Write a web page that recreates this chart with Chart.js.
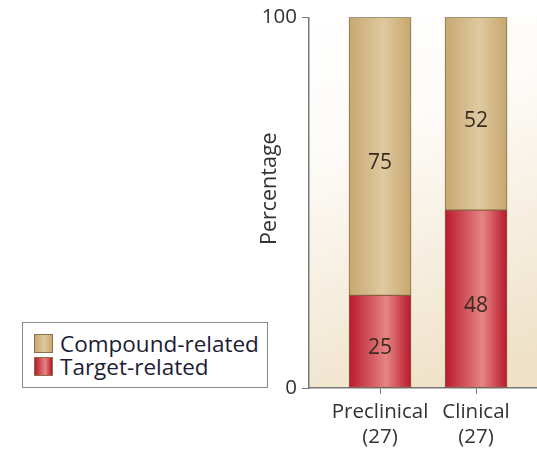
<!DOCTYPE html>
<html>
<head>
<meta charset="utf-8">
<script src="https://cdn.jsdelivr.net/npm/chart.js@4.4.0/dist/chart.umd.min.js"></script>
<style>
  body { margin: 0; background: #fff; }
  #wrap { position: relative; width: 537px; height: 449px; }
  #legend {
    position: absolute; left: 22px; top: 322px; width: 246px; height: 66px;
    border: 1px solid #8a8a8a; background: #fff;
    font-family: "Open Sans", sans-serif; font-size: 22.5px; color: #1c1c34;
    padding: 9px 0 0 11px; box-sizing: border-box;
  }
  #legend div { display: flex; align-items: center; height: 23px; white-space: nowrap; }
  #legend span.sw { width: 19px; height: 19px; margin-right: 7px; border: 1px solid #8b7048; box-sizing: border-box; }
</style>
</head>
<body>
<div id="wrap">
  <canvas id="myChart" width="537" height="449"></canvas>
  <div id="legend"></div>
</div>
<script>
// values
let categories = ["Preclinical", "Clinical"];
let counts = ["(27)", "(27)"];
let compoundRelated = [75, 52];
let targetRelated = [25, 48];
let yTicks = [0, 100];

let font = "'Open Sans', sans-serif";

// horizontal shading on each bar, like a cylinder
function barFill(stops) {
  return (c) => {
    let xs = c.chart.scales.x;
    if (!xs || c.dataIndex == null) return stops[0][1];
    let cx = xs.getPixelForValue(c.dataIndex + 1);
    if (!isFinite(cx)) return stops[0][1];
    let g = c.chart.ctx.createLinearGradient(cx - 31, 0, cx + 31, 0);
    stops.forEach((s) => g.addColorStop(s[0], s[1]));
    return g;
  };
}

let tanStops = [[0, "#c8a870"], [0.55, "#dec9a0"], [1, "#c7a76e"]];
let redStops = [[0, "#b91a2e"], [0.6, "#e58583"], [1, "#b8182c"]];

let bgPlugin = {
  id: "bg",
  beforeDraw(chart) {
    let a = chart.chartArea;
    let ctx = chart.ctx;
    let g = ctx.createLinearGradient(a.left, a.top, a.left + 140, a.bottom);
    g.addColorStop(0, "#ffffff");
    g.addColorStop(0.35, "#fdfbf7");
    g.addColorStop(1, "#eee1c7");
    ctx.save();
    ctx.fillStyle = g;
    ctx.fillRect(a.left, a.top, a.right - a.left, a.bottom - a.top);
    ctx.restore();
  },
};

let valueLabels = {
  id: "valueLabels",
  afterDatasetsDraw(chart) {
    let ctx = chart.ctx;
    ctx.save();
    ctx.font = "21px " + font;
    ctx.fillStyle = "#3a2a22";
    ctx.textAlign = "center";
    ctx.textBaseline = "middle";
    chart.data.datasets.forEach((ds, di) => {
      chart.getDatasetMeta(di).data.forEach((el, i) => {
        ctx.fillText(ds.data[i].y, el.x, (el.y + el.base) / 2 + 7);
      });
    });
    ctx.restore();
  },
};

let mychart = document.getElementById("myChart").getContext("2d");
let barChart = new Chart(mychart, {
  type: "bar",
  data: {
    datasets: [
      {
        label: "Target-related",
        data: targetRelated.map((v, i) => ({ x: i + 1, y: v })),
        backgroundColor: barFill(redStops),
        borderColor: "#8b5a40",
        borderWidth: 1,
        borderSkipped: false,
        barThickness: 62,
      },
      {
        label: "Compound-related",
        data: compoundRelated.map((v, i) => ({ x: i + 1, y: v })),
        backgroundColor: barFill(tanStops),
        borderColor: "#8b7048",
        borderWidth: 1,
        borderSkipped: false,
        barThickness: 62,
      },
    ],
  },
  options: {
    responsive: false,
    animation: false,
    layout: { padding: { left: 250, top: 17, right: 0, bottom: 0 } },
    plugins: { legend: { display: false }, tooltip: { enabled: false } },
    scales: {
      x: {
        type: "linear",
        stacked: true,
        offset: false,
        min: 0.26,
        max: 2.635,
        afterBuildTicks: (s) => { s.ticks = categories.map((c, i) => ({ value: i + 1 })); },
        afterFit: (s) => { s.height = 61; },
        ticks: {
          callback: (v) => [categories[v - 1], counts[v - 1]],
          font: { family: font, size: 20.5, lineHeight: 1.2 },
          color: "#333",
          padding: 6,
          maxRotation: 0,
        },
        grid: { drawOnChartArea: false, offset: false, tickLength: 6, color: "#777" },
        border: { color: "#777", width: 1.5 },
      },
      y: {
        stacked: true,
        min: 0,
        max: 100,
        afterBuildTicks: (s) => { s.ticks = yTicks.map((v) => ({ value: v })); },
        afterFit: (s) => { s.width = 59; },
        ticks: { font: { family: font, size: 20.5 }, color: "#333", padding: 5 },
        grid: { drawOnChartArea: false, tickLength: 7, color: "#777" },
        border: { color: "#777", width: 1.5 },
        title: {
          display: true,
          // leading spaces lift the word a little above the axis middle
          text: "     Percentage",
          font: { family: font, size: 21.5 },
          color: "#333",
          padding: { top: 7, bottom: 0 },
        },
      },
    },
  },
  plugins: [bgPlugin, valueLabels],
});

// legend box, built from the datasets (compound first, like the picture)
let legendEl = document.getElementById("legend");
[1, 0].forEach((di) => {
  let ds = barChart.data.datasets[di];
  let stops = di === 1 ? tanStops : redStops;
  let css = "linear-gradient(90deg," + stops.map((s) => s[1] + " " + s[0] * 100 + "%").join(",") + ")";
  let row = document.createElement("div");
  row.innerHTML = '<span class="sw" style="background:' + css + '"></span>' + ds.label;
  legendEl.appendChild(row);
});
</script>
</body>
</html>
